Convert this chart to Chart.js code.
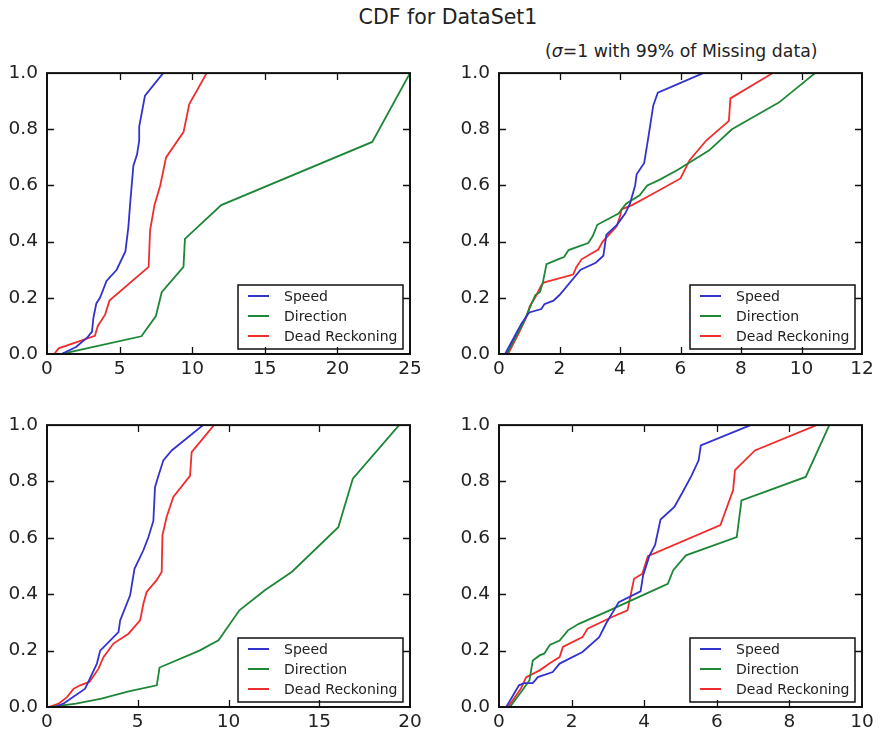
<!DOCTYPE html>
<html>
<head>
<meta charset="utf-8">
<title>CDF for DataSet1</title>
<script src="https://cdn.jsdelivr.net/npm/chart.js@4/dist/chart.umd.min.js"></script>
<style>
    html, body { margin: 0; padding: 0; background: #fff; }
    body { width: 879px; height: 734px; position: relative; overflow: hidden; font-family: "DejaVu Sans", sans-serif; color: #222; }
    canvas { position: absolute; }
    #title { position: absolute; top: 5px; left: 0; width: 896px; text-align: center; font-size: 20.5px; }
    #subtitle { position: absolute; top: 41px; left: 545px; font-size: 17.3px; white-space: nowrap; }
    #c1 { left: 0; top: 53px; }
    #c2 { left: 452px; top: 53px; }
    #c3 { left: 0; top: 405px; }
    #c4 { left: 452px; top: 405px; }
</style>
</head>
<body>
<div id="title">CDF for DataSet1</div>
<div id="subtitle">(<i>σ</i>=1 with 99% of Missing data)</div>
<canvas id="c1" width="427" height="337"></canvas>
<canvas id="c2" width="427" height="337"></canvas>
<canvas id="c3" width="427" height="338"></canvas>
<canvas id="c4" width="427" height="338"></canvas>
<script>
const seriesNames = ['Speed', 'Direction', 'Dead Reckoning'];
const seriesColors = ['rgb(50,50,205)', 'rgb(30,135,55)', 'rgb(240,45,45)'];

// x axis range and tick step per panel
const xMaxes = [25, 12, 20, 10];
const xSteps = [5, 2, 5, 2];
const yTicks = [0, 0.2, 0.4, 0.6, 0.8, 1.0];

// [x, cumulative fraction] pairs
const p1Speed = [[1.0,0],[2.0,0.025],[2.8,0.06],[3.1,0.08],[3.2,0.13],[3.4,0.18],[3.65,0.2],[4.1,0.26],[4.8,0.3],[5.4,0.365],[5.6,0.45],[5.75,0.55],[5.95,0.67],[6.2,0.71],[6.35,0.76],[6.35,0.81],[6.75,0.92],[8.0,1.0]];
const p1Direction = [[1.0,0],[6.5,0.063],[7.5,0.135],[7.9,0.22],[9.4,0.31],[9.5,0.41],[12.0,0.53],[22.4,0.755],[25.0,1.0]];
const p1Dead = [[0.5,0],[0.8,0.02],[2.5,0.05],[3.3,0.065],[3.5,0.1],[4.0,0.14],[4.3,0.19],[7.0,0.31],[7.1,0.44],[7.4,0.53],[7.8,0.6],[8.2,0.7],[9.4,0.79],[9.8,0.89],[11.0,1.0]];

const p2Speed = [[0.2,0],[0.45,0.05],[0.75,0.11],[1.0,0.148],[1.4,0.16],[1.5,0.177],[1.8,0.19],[2.0,0.21],[2.7,0.3],[3.2,0.325],[3.45,0.35],[3.55,0.425],[3.9,0.46],[4.17,0.5],[4.33,0.535],[4.5,0.6],[4.55,0.64],[4.8,0.68],[4.95,0.78],[5.1,0.885],[5.25,0.93],[6.75,1.0]];
const p2Direction = [[0.25,0],[0.5,0.05],[0.8,0.11],[1.0,0.16],[1.2,0.21],[1.35,0.22],[1.45,0.255],[1.57,0.32],[1.95,0.337],[2.15,0.345],[2.3,0.37],[2.95,0.395],[3.1,0.42],[3.25,0.46],[3.95,0.5],[4.2,0.535],[4.65,0.565],[4.9,0.6],[5.3,0.62],[5.9,0.655],[6.95,0.725],[7.7,0.8],[9.25,0.895],[10.45,1.0]];
const p2Dead = [[0.3,0],[0.68,0.08],[0.9,0.13],[1.02,0.17],[1.24,0.21],[1.4,0.245],[1.5,0.255],[2.45,0.283],[2.56,0.31],[2.73,0.337],[3.28,0.372],[3.43,0.4],[3.89,0.455],[4.0,0.49],[4.05,0.515],[4.4,0.53],[5.0,0.565],[6.0,0.625],[6.3,0.69],[6.85,0.76],[7.6,0.83],[7.65,0.91],[9.05,1.0]];

const p3Speed = [[0.45,0],[0.9,0.012],[2.1,0.065],[2.4,0.106],[2.75,0.154],[2.93,0.2],[3.94,0.266],[4.03,0.307],[4.58,0.396],[4.82,0.49],[5.31,0.556],[5.59,0.603],[5.86,0.66],[5.95,0.78],[6.14,0.82],[6.41,0.875],[6.87,0.91],[8.6,1.0]];
const p3Direction = [[0.2,0],[1.6,0.012],[3.0,0.03],[4.5,0.055],[6.05,0.077],[6.2,0.14],[8.4,0.2],[9.45,0.237],[10.6,0.343],[12.0,0.414],[13.5,0.48],[16.05,0.638],[16.85,0.81],[19.4,1.0]];
const p3Dead = [[0.1,0],[0.64,0.012],[1.1,0.035],[1.47,0.065],[1.83,0.077],[2.34,0.089],[2.84,0.136],[3.11,0.177],[3.66,0.225],[4.49,0.26],[5.13,0.307],[5.31,0.366],[5.49,0.408],[6.04,0.45],[6.32,0.479],[6.36,0.609],[6.59,0.674],[6.96,0.745],[7.88,0.82],[7.97,0.904],[9.2,1.0]];

const p4Speed = [[0.2,0],[0.55,0.077],[0.7,0.085],[0.93,0.085],[1.07,0.106],[1.48,0.124],[1.67,0.154],[2.3,0.195],[2.76,0.248],[2.95,0.296],[3.3,0.372],[3.9,0.41],[3.97,0.467],[4.14,0.535],[4.3,0.575],[4.45,0.665],[4.83,0.71],[5.05,0.76],[5.3,0.82],[5.5,0.875],[5.56,0.928],[6.93,1.0]];
const p4Direction = [[0.3,0],[0.65,0.06],[0.84,0.095],[0.93,0.165],[1.12,0.183],[1.25,0.19],[1.4,0.22],[1.67,0.236],[1.9,0.272],[2.2,0.295],[3.0,0.34],[4.1,0.405],[4.65,0.437],[4.8,0.485],[5.15,0.538],[6.55,0.603],[6.68,0.733],[8.45,0.816],[9.1,1.0]];
const p4Dead = [[0.25,0],[0.6,0.065],[0.75,0.106],[1.12,0.13],[1.4,0.155],[1.67,0.177],[1.76,0.213],[2.3,0.248],[2.44,0.278],[3.13,0.32],[3.54,0.343],[3.72,0.455],[3.95,0.473],[4.1,0.535],[6.1,0.645],[6.45,0.77],[6.5,0.84],[7.05,0.91],[8.75,1.0]];

const panelSeries = [
    [p1Speed, p1Direction, p1Dead],
    [p2Speed, p2Direction, p2Dead],
    [p3Speed, p3Direction, p3Dead],
    [p4Speed, p4Direction, p4Dead]
];

const TICK_FONT = { family: 'DejaVu Sans', size: 18.5 };
const TICK_LEN = 7;

// black box round the plot area with ticks pointing inward on all four sides
const axesFrame = {
    id: 'axesFrame',
    afterDraw(chart) {
        const { ctx, chartArea: a, scales } = chart;
        ctx.save();
        ctx.strokeStyle = '#111';
        ctx.lineWidth = 1.3;
        ctx.beginPath();
        scales.x.ticks.forEach(t => {
            const px = Math.round(scales.x.getPixelForValue(t.value)) + 0.5;
            if (px <= a.left + 1 || px >= a.right - 1) return;
            ctx.moveTo(px, a.bottom); ctx.lineTo(px, a.bottom - TICK_LEN);
            ctx.moveTo(px, a.top); ctx.lineTo(px, a.top + TICK_LEN);
        });
        scales.y.ticks.forEach(t => {
            const py = Math.round(scales.y.getPixelForValue(t.value)) + 0.5;
            if (py <= a.top + 1 || py >= a.bottom - 1) return;
            ctx.moveTo(a.left, py); ctx.lineTo(a.left + TICK_LEN, py);
            ctx.moveTo(a.right, py); ctx.lineTo(a.right - TICK_LEN, py);
        });
        ctx.stroke();
        ctx.lineWidth = 2;
        ctx.strokeRect(a.left, a.top, a.right - a.left, a.bottom - a.top);
        ctx.restore();
    }
};

// framed legend in the lower right corner of the plot area
const boxLegend = {
    id: 'boxLegend',
    afterDatasetsDraw(chart) {
        const { ctx, chartArea: a } = chart;
        const w = 165, h = 64;
        const x = a.right - 7 - w;
        const y = a.bottom - 5 - h;
        ctx.save();
        ctx.fillStyle = '#fff';
        ctx.fillRect(x, y, w, h);
        ctx.strokeStyle = '#111';
        ctx.lineWidth = 1.5;
        ctx.strokeRect(x, y, w, h);
        ctx.font = '14px "DejaVu Sans"';
        ctx.textBaseline = 'middle';
        chart.data.datasets.forEach((ds, i) => {
            const ly = y + 11 + i * 20;
            ctx.strokeStyle = ds.borderColor;
            ctx.lineWidth = 2;
            ctx.beginPath();
            ctx.moveTo(x + 10, ly);
            ctx.lineTo(x + 31, ly);
            ctx.stroke();
            ctx.fillStyle = '#222';
            ctx.fillText(ds.label, x + 46, ly + 1);
        });
        ctx.restore();
    }
};

function buildPanel(canvasId, idx) {
    const datasets = panelSeries[idx].map((pts, i) => ({
        label: seriesNames[i],
        data: pts.map(([x, y]) => ({ x, y })),
        borderColor: seriesColors[i],
        borderWidth: 1.8,
        pointRadius: 0,
        tension: 0,
        fill: false
    }));
    return new Chart(document.getElementById(canvasId), {
        type: 'line',
        data: { datasets },
        options: {
            responsive: false,
            animation: false,
            layout: { padding: { left: 0, top: 20, right: 17, bottom: 6 } },
            plugins: { legend: { display: false }, tooltip: { enabled: false } },
            scales: {
                x: {
                    type: 'linear',
                    min: 0,
                    max: xMaxes[idx],
                    grid: { display: false, drawTicks: false },
                    border: { display: false },
                    ticks: { stepSize: xSteps[idx], font: TICK_FONT, color: '#222', padding: 4, maxRotation: 0 },
                    afterFit(scale) { scale.height = 30; }
                },
                y: {
                    type: 'linear',
                    min: 0,
                    max: 1,
                    grid: { display: false, drawTicks: false },
                    border: { display: false },
                    afterBuildTicks(scale) { scale.ticks = yTicks.map(v => ({ value: v })); },
                    ticks: { font: TICK_FONT, color: '#222', padding: 9, callback: v => v.toFixed(1) },
                    afterFit(scale) { scale.width = 47; }
                }
            }
        },
        plugins: [boxLegend, axesFrame]
    });
}

['c1', 'c2', 'c3', 'c4'].forEach((id, i) => buildPanel(id, i));
</script>
</body>
</html>
